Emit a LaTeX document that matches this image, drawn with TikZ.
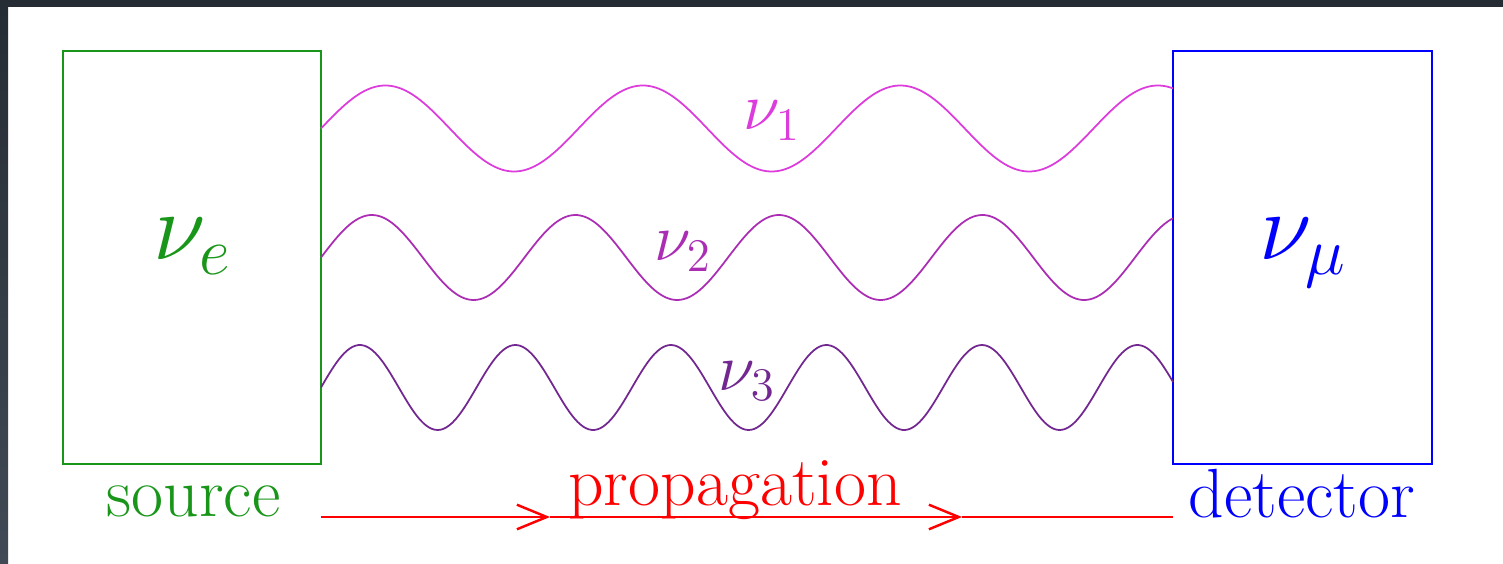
\RequirePackage{fix-cm}
\documentclass[tikz,border=0pt]{standalone}
\usepackage{tikz}
\usetikzlibrary{
    arrows.meta,
    positioning
}
\definecolor{srcgreen}{RGB}{25,150,25}
\definecolor{nuone}{RGB}{220,60,220}
\definecolor{nutwo}{RGB}{170,45,180}
\definecolor{nuthree}{RGB}{115,40,145}
\definecolor{frametop}{RGB}{38,44,52}
\definecolor{framelow}{RGB}{64,74,86}
\tikzset{
    tank/.style={
        draw,
        rectangle,
        line width=0.6pt,
        inner sep=0pt,
        minimum width=2.58cm,
        minimum height=4.13cm
    },
    flav/.style={
        font=\fontsize{27.3}{32}\selectfont,
        anchor=base,
        inner sep=0pt
    },
    mass/.style={
        font=\fontsize{19}{23}\selectfont,
        anchor=base,
        inner sep=0pt
    },
    lab/.style={
        font=\fontsize{19.8}{24}\selectfont,
        anchor=base,
        inner sep=0pt
    },
    wave/.style={
        line width=0.5pt,
        samples=300,
        smooth
    },
    prop/.style={
        red,
        line width=0.7pt
    },
    proparr/.style={
        prop,
        -{Straight Barb[length=8.5pt,width=7pt]}
    }
}

\begin{document}
\begin{tikzpicture}[x=0.01cm, y=-0.01cm]

\useasboundingbox (0,0) rectangle (1503,564);
\fill[frametop] (0,0) rectangle (1503,7);
\shade[top color=frametop, bottom color=framelow] (0,7) rectangle (8,564);

\node[tank, srcgreen] (src) at (192,257.5) {};
\node[tank, blue] (det) at (1302.5,257.5) {};
\node[flav, srcgreen] (nue) at (192.5,260) {$\nu_e$};
\node[flav, blue] (numu) at (1303,260) {$\nu_\mu$};

\coordinate (w1) at (321,128.5);
\coordinate (w2) at (321,257.5);
\coordinate (w3) at (321,387.5);

\draw[wave, nuone, shift={(w1)}] plot[domain=0:852] (\x, {-43*sin(\x/257.5*360)});
\draw[wave, nutwo, shift={(w2)}] plot[domain=0:852] (\x, {-42.5*sin(\x/203.5*360)});
\draw[wave, nuthree, shift={(w3)}] plot[domain=0:852] (\x, {-42.5*sin(\x/155.5*360)});

\node[mass, nuone] (l1) at (772,130) {$\nu_1$};
\node[mass, nutwo] (l2) at (683,261) {$\nu_2$};
\node[mass, nuthree] (l3) at (747,390) {$\nu_3$};

\node[lab, srcgreen] (srclab) at (193.5,516) {source};
\node[lab, blue] (detlab) at (1302,517) {detector};
\node[lab, red] (proplab) at (735,505) {propagation};

\coordinate (a0) at (321,517);
\coordinate (a1) at (550,517);
\coordinate (a2) at (962,517);
\coordinate (a3) at (1173,517);

\draw[proparr] (a0) -- (a1);
\draw[proparr] (a1) -- (a2);
\draw[prop] (a2) -- (a3);

\end{tikzpicture}
\end{document}
